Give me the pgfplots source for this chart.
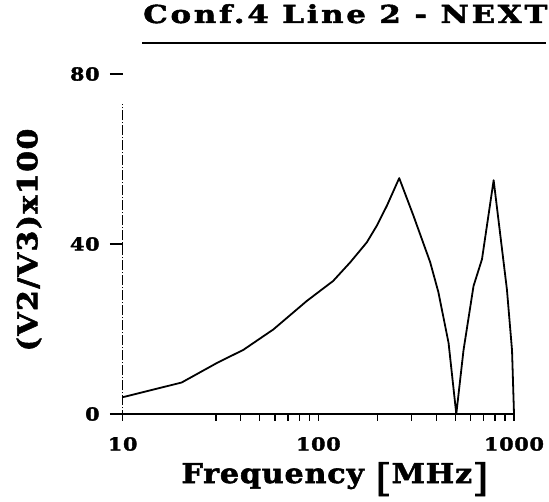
\documentclass[border=0pt]{standalone}
\usepackage{fontspec}
\setmainfont{DejaVu Serif}
\newfontfamily\titlefont{DejaVu Serif}[FakeStretch=1.25, LetterSpace=11, FakeBold=2]
\newfontfamily\labfont{DejaVu Serif}[FakeStretch=1.1, LetterSpace=3, FakeBold=2]
\newfontfamily\ylabfont{DejaVu Serif}[FakeStretch=1.1, LetterSpace=5, FakeBold=2]
\newfontfamily\tickfont{DejaVu Serif}[FakeStretch=1.15, LetterSpace=4, FakeBold=2]
\usepackage{pgfplots}
\pgfplotsset{compat=1.18}
\begin{document}
\begin{tikzpicture}[x=1pt,y=1pt]
\path[use as bounding box] (0,0) rectangle (549,502);
\begin{axis}[
  at={(122.7pt,88pt)}, anchor=south west,
  scale only axis, width=391.3pt, height=340pt,
  xmode=log, xmin=10, xmax=1000, ymin=0, ymax=80,
  axis lines=left, axis line style={-},
  x axis line style={line width=2.2pt},
  y axis line style={draw=none},
  tick align=outside,
  major tick length=7pt, minor tick length=7pt,
  tick style={black, line width=1.2pt},
  xtick={10,100,1000}, xticklabels={10,100,1000},
  minor xtick={30,40,50,60,70,80,90,200,300,400,500,600,700,800,900},
  ytick=\empty,
  extra y ticks={0,40,80},
  extra y tick labels={0,40,80},
  extra y tick style={major tick length=13pt},
  /pgf/number format/assume math mode=true,
  xticklabel style={font=\tickfont\bfseries\fontsize{18}{18}\selectfont, anchor=north, inner sep=0pt, yshift=-16pt},
  yticklabel style={font=\tickfont\bfseries\fontsize{18}{18}\selectfont, anchor=east, inner sep=0pt, xshift=-10pt},
  xlabel={\labfont\bfseries\fontsize{27.4}{27.4}\selectfont Frequency {\mdseries\fontsize{38}{38}\selectfont\raisebox{-8pt}{[}}MHz{\mdseries\fontsize{38}{38}\selectfont\raisebox{-8pt}{]}}},
  xlabel style={at={(axis description cs:0.5426,-0.203)}, anchor=base, inner sep=0pt},
  ylabel={\ylabfont\bfseries\fontsize{27.4}{27.4}\selectfont (V2/V3)x100},
  ylabel style={at={(axis description cs:-0.2395,0.5118)}, anchor=center, inner sep=0pt},
  title={\titlefont\bfseries\fontsize{24.7}{24.7}\selectfont Conf.4 Line 2 - NEXT},
  title style={at={(axis description cs:0.0519,1.1324)}, anchor=base west, inner sep=0pt},
  clip=false,
]
\draw[line width=2.2pt] (axis cs:9.45,0) -- (axis cs:10,0);
\draw[line width=0.9pt, dash pattern=on 10pt off 2pt on 1pt off 2pt] (axis cs:10,-1.5) -- (axis cs:10,73);
\addplot[black, line width=1.8pt, line join=round] coordinates {
(10,3.95) (20,7.4) (30.3,12) (41.4,15.1) (58.9,19.9) (87.3,26.6) (119,31.3)
(145.6,35.7) (177,40.4) (199,44.3) (224,49) (259,55.5) (306,46.7) (373,35.7)
(411,28.6) (463,16.7) (507,0) (552,15) (621,30.1) (686,36.4) (787,55)
(920,29.3) (977,15) (1000,0)
};
\end{axis}
\draw[line width=2pt] (142,459) -- (546,459);
\end{tikzpicture}
\end{document}
